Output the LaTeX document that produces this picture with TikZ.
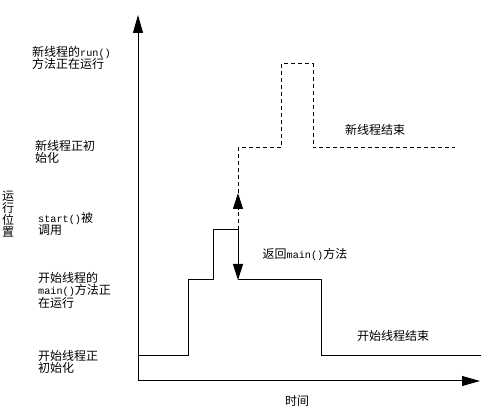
\documentclass[tikz,border=0pt]{standalone}
\usepackage{fontspec}
\setmainfont{Noto Sans CJK SC}
\setmonofont[Scale=0.85]{Liberation Mono}
\usetikzlibrary{arrows.meta}

\tikzset{
  lbl/.style={anchor=west, align=left, inner sep=0pt},
  mid/.style={inner sep=0pt},
  axisline/.style={line width=1pt, -{Triangle[length=18pt,width=10pt]}},
  mainline/.style={line width=1pt},
  newline/.style={line width=1pt, dash pattern=on 4pt off 3pt},
  tip/.style={-{Triangle[length=16pt,width=10pt]}}
}

\begin{document}
\begin{tikzpicture}[x=1pt, y=-1pt, font=\fontsize{12}{12.5}\selectfont]
      \useasboundingbox (0,0) rectangle (483,417);

      % --- Axes ---
      \coordinate (O) at (138,381);
      \coordinate (ytop) at (138,15);
      \coordinate (xend) at (480,381);
      \draw[axisline] (O) -- (ytop);
      \draw[axisline] (O) -- (xend);

      % --- Main thread (solid) ---
      \coordinate (m0) at (138,356);
      \coordinate (m1) at (188,356);
      \coordinate (m2) at (188,280);
      \coordinate (m3) at (213,280);
      \coordinate (m4) at (213,230);
      \coordinate (m5) at (238,230);
      \coordinate (m6) at (238,280);
      \coordinate (m7) at (321,280);
      \coordinate (m8) at (321,356);
      \coordinate (m9) at (481,356);
      \draw[mainline] (m0) -- (m1) -- (m2) -- (m3) -- (m4) -- (m5);
      \draw[mainline, tip] (m5) -- (m6);
      \draw[mainline] (m6) -- (m7) -- (m8) -- (m9);

      % --- New thread (dashed) ---
      \coordinate (a1) at (238,193);
      \coordinate (n1) at (238,148);
      \coordinate (n2) at (281,148);
      \coordinate (n3) at (281,64);
      \coordinate (n4) at (313,64);
      \coordinate (n5) at (313,148);
      \coordinate (n6) at (455,148);
      \draw[newline, tip] (m5) -- (a1);
      \draw[newline] (a1) -- (n1) -- (n2) -- (n3) -- (n4) -- (n5) -- (n6);

      % --- Left labels ---
      \node[lbl] (runlbl)   at (32,58)  {新线程的\texttt{run()}\\方法正在运行};
      \node[lbl] (initnew)  at (35,152) {新线程正初\\始化};
      \node[mid, align=center, font=\fontsize{12}{12}\selectfont] (ylabel) at (8,214) {运\\行\\位\\置};
      \node[lbl] (startlbl) at (38,224) {\texttt{start()}被\\调用};
      \node[lbl] (mainlbl)  at (38,290) {开始线程的\\\texttt{main()}方法正\\在运行};
      \node[lbl] (initmain) at (38,362) {开始线程正\\初始化};

      % --- Labels in the plot ---
      \node[mid] (newend)  at (375,130) {新线程结束};
      \node[mid] (back)    at (305,254) {返回\texttt{main()}方法};
      \node[mid] (mainend) at (393,336) {开始线程结束};
      \node[mid] (timelbl) at (297,401) {时间};
  \end{tikzpicture}
\end{document}
